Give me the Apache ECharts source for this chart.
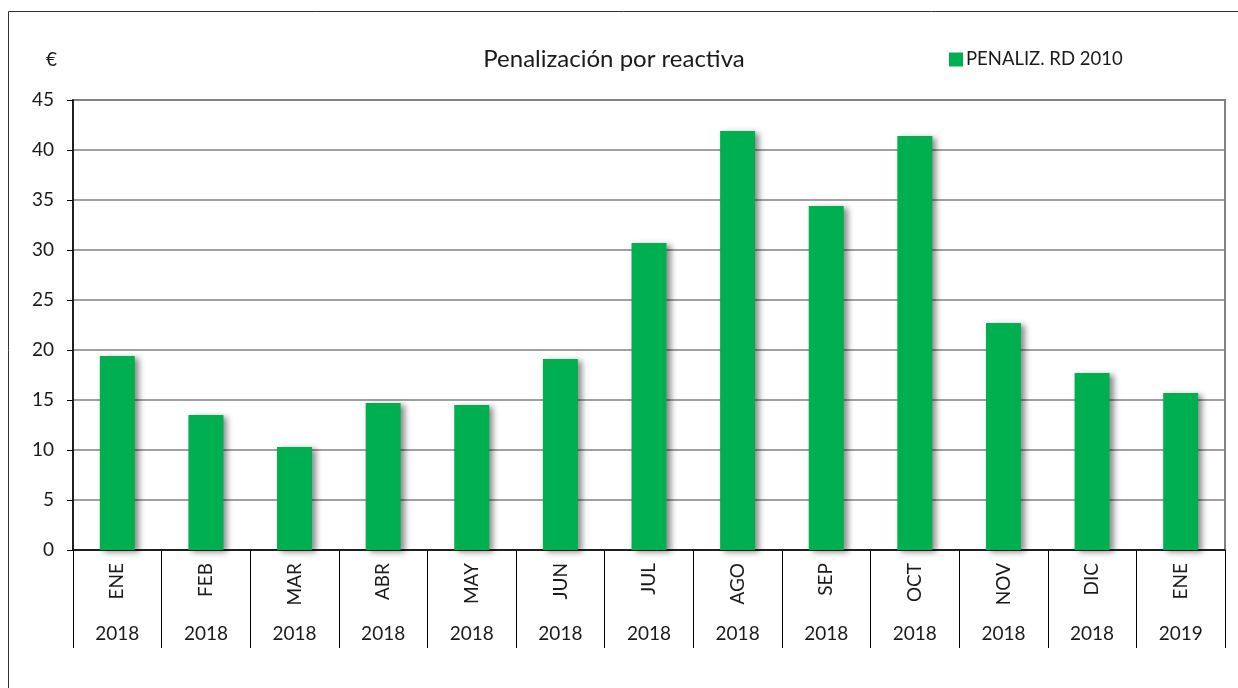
<!DOCTYPE html>
<html>
<head>
<meta charset="utf-8">
<script src="https://cdn.jsdelivr.net/npm/echarts@6/dist/echarts.min.js"></script>
<style>
  html, body { margin: 0; padding: 0; background: #fff; }
  #chart { width: 1238px; height: 688px; }
</style>
</head>
<body>
<div id="chart"></div>
<script>
// datos
const months = ['ENE', 'FEB', 'MAR', 'ABR', 'MAY', 'JUN', 'JUL', 'AGO', 'SEP', 'OCT', 'NOV', 'DIC', 'ENE']
const years = ['2018', '2018', '2018', '2018', '2018', '2018', '2018', '2018', '2018', '2018', '2018', '2018', '2019']
const penaliz = [19.4, 13.5, 10.3, 14.7, 14.5, 19.1, 30.7, 41.9, 34.4, 41.4, 22.7, 17.7, 15.7]
const yTicks = [0, 45, 5]

const font = 'Lato'
const chart = echarts.init(document.getElementById('chart'))

const option = {
  animation: false,
  textStyle: { fontFamily: font },
  title: [
    {
      text: 'Penalización por reactiva',
      left: 609,
      top: 42,
      textAlign: 'center',
      textStyle: { fontSize: 24, fontWeight: 'normal', color: '#1a1a1a', fontFamily: font }
    },
    {
      text: '€',
      left: 41,
      top: 45,
      textStyle: { fontSize: 19, fontWeight: 'normal', color: '#1a1a1a', fontFamily: font }
    }
  ],
  legend: {
    data: ['PENALIZ. RD 2010'],
    left: 944,
    top: 45,
    itemWidth: 14,
    itemHeight: 14,
    itemGap: 4,
    icon: 'rect',
    textStyle: { fontSize: 18.5, color: '#1a1a1a', fontFamily: font, padding: [0, 0, 0, -2] }
  },
  graphic: [
    {
      type: 'rect',
      shape: { x: 8.5, y: 11.5, width: 1240, height: 690 },
      style: { fill: 'none', stroke: '#333', lineWidth: 1 },
      silent: true
    }
  ],
  grid: {
    left: 73,
    right: 13,
    top: 100,
    bottom: 138,
    show: true,
    borderColor: '#808080',
    borderWidth: 2
  },
  xAxis: [
    {
      type: 'category',
      data: months,
      boundaryGap: true,
      axisLine: { lineStyle: { color: '#000', width: 1.5 } },
      axisTick: { show: true, length: 98, lineStyle: { color: '#000', width: 1 } },
      axisLabel: { rotate: 90, margin: 13, fontSize: 19, color: '#1a1a1a', fontFamily: font, interval: 0 }
    },
    {
      type: 'category',
      data: years,
      position: 'bottom',
      boundaryGap: true,
      axisLine: { show: false },
      axisTick: { show: false },
      axisLabel: { margin: 74, fontSize: 19, color: '#1a1a1a', fontFamily: font, interval: 0 }
    }
  ],
  yAxis: {
    type: 'value',
    min: yTicks[0],
    max: yTicks[1],
    interval: yTicks[2],
    axisLine: { show: true, lineStyle: { color: '#000', width: 1.5 } },
    axisTick: { show: true, length: 6, lineStyle: { color: '#000' } },
    axisLabel: { margin: 19, fontSize: 19, color: '#1a1a1a', fontFamily: font },
    splitLine: { lineStyle: { color: '#808080', width: 1.5 } }
  },
  series: [
    {
      name: 'PENALIZ. RD 2010',
      type: 'bar',
      data: penaliz,
      barWidth: 35,
      itemStyle: {
        color: '#00AF50',
        shadowColor: 'rgba(0,0,0,0.45)',
        shadowBlur: 6,
        shadowOffsetX: 4,
        shadowOffsetY: 2
      }
    }
  ]
}

chart.setOption(option)
</script>
</body>
</html>
